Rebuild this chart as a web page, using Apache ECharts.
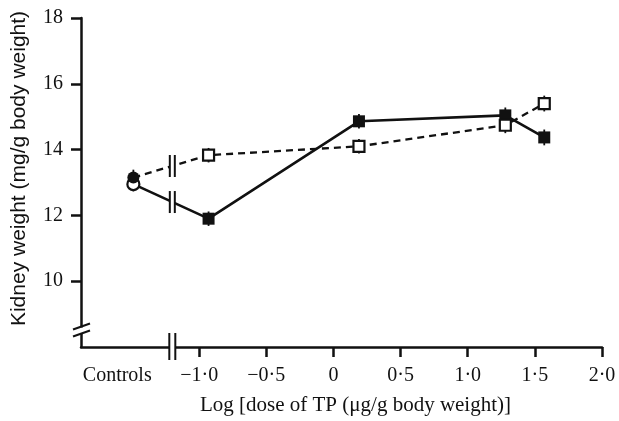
<!DOCTYPE html>
<html>
<head>
<meta charset="utf-8">
<script src="https://cdn.jsdelivr.net/npm/echarts@6/dist/echarts.min.js"></script>
<style>
html,body{margin:0;padding:0;background:#fff;}
#chart{width:619px;height:421px;}
</style>
</head>
<body>
<div id="chart"></div>
<script>
// ---- data ----
const doseLog = [-0.93, 0.19, 1.28, 1.57];        // log dose of TP
const controlX = -1.49;                            // where the control group is plotted
const solidControl = 12.95;                        // open circle
const solidValues = [11.9, 14.86, 15.04, 14.37];   // filled squares, solid line
const dashedControl = 13.15;                       // filled circle
const dashedValues = [13.83, 14.1, 14.74, 15.4];   // open squares, dashed line
const solidErr = [0.22, 0.22, 0.22, 0.24, 0.24];
const dashedErr = [0.24, 0.22, 0.22, 0.24, 0.24];

const xTickValues = [-1, -0.5, 0, 0.5, 1, 1.5, 2];
const xTickLabels = ['\u22121\u00b70', '\u22120\u00b75', '0', '0\u00b75', '1\u00b70', '1\u00b75', '2\u00b70'];
const controlsLabelValue = -1.61;
const controlsLabel = 'Controls';
const yTickValues = [10, 12, 14, 16, 18];
const breakX = -1.2;
const yBreakValue = 8.5;

const xMin = -1.88, xMax = 2.0, yMin = 8, yMax = 18;

// ---- build ----
function lineData(cx, cy, xs, ys, ctrlStyle) {
  const d = [{ value: [cx, cy], symbol: 'circle', symbolSize: 12, itemStyle: ctrlStyle }];
  xs.forEach((x, i) => d.push([x, ys[i]]));
  return d;
}
function errData(cx, cy, xs, ys, errs) {
  const d = [[cx, cy, errs[0]]];
  xs.forEach((x, i) => d.push([x, ys[i], errs[i + 1]]));
  return d;
}
function interp(x0, y0, x1, y1, x) { return y0 + (y1 - y0) * (x - x0) / (x1 - x0); }

const breakData = [
  [breakX, interp(controlX, solidControl, doseLog[0], solidValues[0], breakX), 0],
  [breakX, interp(controlX, dashedControl, doseLog[0], dashedValues[0], breakX), 0],
  [breakX, yMin, 1],
  [xMin, yBreakValue, 2]
];

const labelValues = [controlsLabelValue].concat(xTickValues);
const labelMap = {};
labelMap[controlsLabelValue] = controlsLabel;
xTickValues.forEach((v, i) => { labelMap[v] = xTickLabels[i]; });

const BLACK = '#111';
const chart = echarts.init(document.getElementById('chart'));
chart.setOption({
  animation: false,
  backgroundColor: '#fff',
  grid: { left: 81, right: 17, top: 18, bottom: 74, containLabel: false, outerBoundsMode: 'none' },
  xAxis: {
    type: 'value', min: xMin, max: xMax,
    name: 'Log [dose of TP (\u03bcg/g body weight)]',
    nameLocation: 'middle', nameGap: 48,
    nameTextStyle: { fontFamily: 'Liberation Serif', fontSize: 21, color: BLACK, padding: [0, 0, 0, 28] },
    axisLine: { onZero: false, lineStyle: { color: BLACK, width: 2.5 } },
    axisTick: { show: true, inside: false, length: 10, lineStyle: { color: BLACK, width: 2.5 }, customValues: xTickValues },
    axisLabel: {
      margin: 19, fontFamily: 'Liberation Serif', fontSize: 20, color: BLACK,
      customValues: labelValues,
      formatter: function (v) { return labelMap[v] !== undefined ? labelMap[v] : ''; }
    },
    splitLine: { show: false }
  },
  yAxis: {
    type: 'value', min: yMin, max: yMax,
    name: 'Kidney weight (mg/g body weight)',
    nameLocation: 'middle', nameGap: 51,
    nameTextStyle: { fontFamily: 'Liberation Sans', fontSize: 21, color: BLACK, padding: [0, 0, 0, 28] },
    axisLine: { onZero: false, lineStyle: { color: BLACK, width: 2.5 } },
    axisTick: { show: true, inside: false, length: 10, lineStyle: { color: BLACK, width: 2.5 }, customValues: yTickValues },
    axisLabel: { margin: 18, fontFamily: 'Liberation Serif', fontSize: 20, color: BLACK, customValues: yTickValues },
    splitLine: { show: false }
  },
  series: [
    {
      type: 'custom', name: 'err', z: 1,
      renderItem: function (params, api) {
        const x = api.value(0), y = api.value(1), e = api.value(2);
        const a = api.coord([x, y - e]), b = api.coord([x, y + e]);
        return { type: 'line', shape: { x1: a[0], y1: a[1], x2: b[0], y2: b[1] }, style: { stroke: BLACK, lineWidth: 1.8 } };
      },
      data: errData(controlX, solidControl, doseLog, solidValues, solidErr).concat(
            errData(controlX, dashedControl, doseLog, dashedValues, dashedErr))
    },
    {
      type: 'line', name: 'solid', z: 3,
      data: lineData(controlX, solidControl, doseLog, solidValues,
        { color: '#fff', borderColor: BLACK, borderWidth: 2.2 }),
      symbol: 'rect', symbolSize: 12, showSymbol: true,
      lineStyle: { color: BLACK, width: 2.6, type: 'solid' },
      itemStyle: { color: BLACK, borderColor: BLACK, borderWidth: 0 }
    },
    {
      type: 'line', name: 'dashed', z: 4,
      data: lineData(controlX, dashedControl, doseLog, dashedValues,
        { color: BLACK, borderColor: BLACK, borderWidth: 0 }),
      symbol: 'rect', symbolSize: 11, showSymbol: true,
      lineStyle: { color: BLACK, width: 2.3, type: [7, 5] },
      itemStyle: { color: '#fff', borderColor: BLACK, borderWidth: 2.2 }
    },
    {
      type: 'custom', name: 'breaks', z: 5,
      renderItem: function (params, api) {
        const p = api.coord([api.value(0), api.value(1)]);
        const t = api.value(2);
        const s = { stroke: BLACK, lineWidth: 2 };
        if (t === 0) {
          return { type: 'group', children: [
            { type: 'rect', shape: { x: p[0] - 2.5, y: p[1] - 6, width: 5, height: 12 }, style: { fill: '#fff' } },
            { type: 'line', shape: { x1: p[0] - 2.5, y1: p[1] - 11, x2: p[0] - 2.5, y2: p[1] + 11 }, style: s },
            { type: 'line', shape: { x1: p[0] + 2.5, y1: p[1] - 11, x2: p[0] + 2.5, y2: p[1] + 11 }, style: s }
          ] };
        } else if (t === 1) {
          return { type: 'group', children: [
            { type: 'rect', shape: { x: p[0] - 3, y: p[1] - 4, width: 6, height: 8 }, style: { fill: '#fff' } },
            { type: 'line', shape: { x1: p[0] - 3, y1: p[1] - 14, x2: p[0] - 3, y2: p[1] + 13 }, style: s },
            { type: 'line', shape: { x1: p[0] + 3, y1: p[1] - 14, x2: p[0] + 3, y2: p[1] + 13 }, style: s }
          ] };
        }
        return { type: 'group', children: [
          { type: 'rect', shape: { x: p[0] - 3, y: p[1] - 3, width: 6, height: 6 }, style: { fill: '#fff' } },
          { type: 'line', shape: { x1: p[0] - 8, y1: p[1] - 1, x2: p[0] + 9, y2: p[1] - 7 }, style: s },
          { type: 'line', shape: { x1: p[0] - 8, y1: p[1] + 6, x2: p[0] + 9, y2: p[1] }, style: s }
        ] };
      },
      data: breakData
    }
  ]
});
</script>
</body>
</html>
